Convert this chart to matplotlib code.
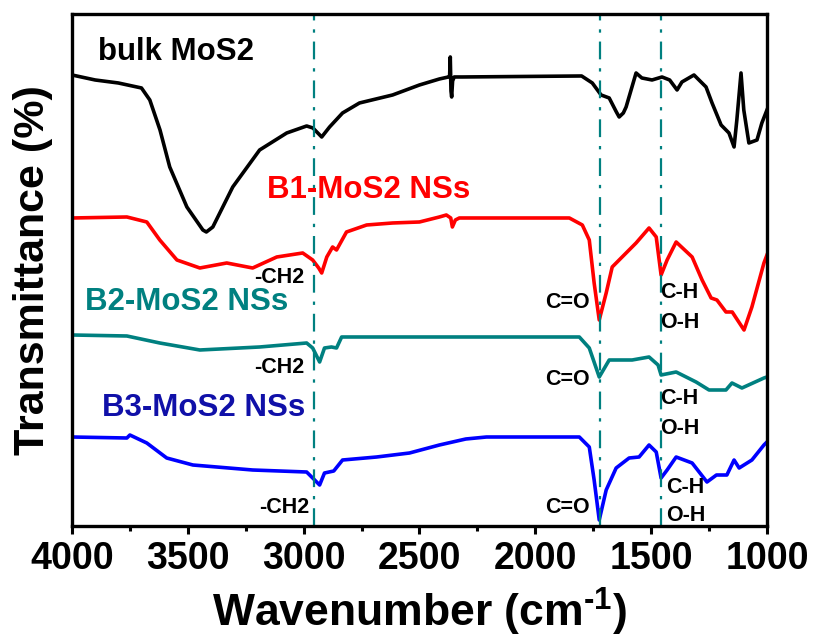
import numpy as np
import matplotlib
matplotlib.use('Agg')
import matplotlib.pyplot as plt
from matplotlib.ticker import MultipleLocator

plt.rcParams['font.family'] = ['Liberation Sans', 'DejaVu Sans']
plt.rcParams['font.weight'] = 'bold'
plt.rcParams['mathtext.fontset'] = 'custom'
plt.rcParams['mathtext.rm'] = 'Liberation Sans:bold'
plt.rcParams['mathtext.it'] = 'Liberation Sans:bold'
plt.rcParams['mathtext.bf'] = 'Liberation Sans:bold'

# Spectra (wavenumber, offset transmittance in a.u.)
bulk_w = [4000, 3900, 3800, 3700, 3664, 3620, 3578, 3504, 3435, 3420, 3392, 3306, 3190, 3073,
          2987, 2960, 2922, 2888, 2832, 2759, 2616, 2500, 2414, 2375, 2370, 2367, 2364, 2361,
          2357, 2350, 2315, 1800, 1754, 1716, 1681, 1650, 1638, 1620, 1608, 1565, 1540, 1496,
          1453, 1420, 1388, 1367, 1315, 1263, 1237, 1198, 1164, 1142, 1130, 1112, 1100, 1078,
          1043, 1022, 1000]
bulk_t = [451, 446, 443, 438, 426, 396, 359, 319, 296, 294, 299, 339, 376, 393,
          400, 398, 389, 399, 413, 423, 431, 441, 447, 449, 449, 469, 435, 429,
          445, 449, 449, 450, 443, 431, 428, 414, 409, 413, 419, 453, 448, 446,
          449, 446, 436, 444, 451, 439, 423, 401, 393, 379, 406, 453, 416, 383,
          386, 403, 416]

b1_w = [4000, 3763, 3677, 3621, 3547, 3448, 3332, 3220, 3116, 3004, 2961, 2935, 2922, 2900,
        2875, 2858, 2815, 2728, 2616, 2500, 2414, 2384, 2365, 2358, 2345, 2328, 1853, 1797,
        1767, 1746, 1724, 1694, 1668, 1638, 1565, 1509, 1478, 1457, 1431, 1392, 1323, 1280,
        1241, 1216, 1177, 1150, 1099, 1065, 1013, 1000]
b1_t = [308, 309, 304, 286, 266, 258, 263, 258, 269, 273, 266, 258, 253, 269,
        279, 276, 294, 301, 303, 304, 309, 311, 308, 299, 306, 308, 308, 301,
        286, 243, 206, 233, 259, 266, 283, 298, 289, 251, 266, 284, 269, 246,
        228, 226, 214, 214, 196, 219, 263, 271]

b2_w = [4000, 3763, 3621, 3448, 3190, 2987, 2961, 2931, 2910, 2880, 2858, 2836, 2616, 2500,
        1810, 1767, 1724, 1681, 1582, 1509, 1470, 1457, 1392, 1306, 1250, 1177, 1151, 1108,
        1013, 1000]
b2_t = [191, 190, 183, 176, 179, 183, 178, 164, 178, 179, 178, 189, 189, 189,
        189, 178, 149, 166, 166, 169, 161, 151, 154, 144, 136, 136, 143, 138,
        148, 149]

b3_w = [4000, 3763, 3750, 3677, 3591, 3478, 3220, 2987, 2961, 2931, 2910, 2870, 2832, 2685,
        2543, 2414, 2300, 2211, 1810, 1767, 1746, 1724, 1694, 1651, 1595, 1552, 1509, 1478,
        1457, 1431, 1392, 1323, 1259, 1218, 1173, 1142, 1120, 1065, 1013, 1000]
b3_t = [89, 88, 91, 83, 68, 61, 56, 54, 48, 41, 53, 55, 66, 69,
        73, 81, 87, 89, 89, 79, 46, 6, 36, 58, 68, 69, 81, 74,
        48, 56, 69, 63, 44, 51, 51, 66, 58, 66, 81, 84]

# assigned bands
band_lines = [2955, 1720, 1457]

fig = plt.figure(figsize=(8.16, 6.41), dpi=100)
ax = fig.add_axes([0.0882, 0.1794, 0.8517, 0.7988])

ax.plot(bulk_w, bulk_t, color='black', lw=2.6)
ax.plot(b1_w, b1_t, color='#ff0000', lw=2.6)
ax.plot(b2_w, b2_t, color='#008080', lw=2.6)
ax.plot(b3_w, b3_t, color='#0000ff', lw=2.6)

for w in band_lines:
    ax.axvline(w, color='#008080', lw=1.6, dashes=(8, 4, 1.5, 4))

ax.text(3888, 474, 'bulk MoS2', fontsize=22.5, fontweight='bold', color='black', ha='left', va='center')
ax.text(3159, 336, 'B1-MoS2 NSs', fontsize=22.5, fontweight='bold', color='#ff0000', ha='left', va='center')
ax.text(3944, 224, 'B2-MoS2 NSs', fontsize=22.5, fontweight='bold', color='#008080', ha='left', va='center')
ax.text(3871, 118, 'B3-MoS2 NSs', fontsize=22.5, fontweight='bold', color='#1010a8', ha='left', va='center')

for x, y in [(2996, 248), (2996, 158), (2974, 19)]:
    ax.text(x, y, '-CH2', fontsize=15.5, fontweight='bold', ha='right', va='center')
for x, y in [(1767, 223), (1763, 146), (1767, 19)]:
    ax.text(x, y, 'C=O', fontsize=15.5, fontweight='bold', ha='right', va='center')
for x, y1, y2 in [(1461, 233, 203), (1461, 127, 97), (1435, 39, 11)]:
    ax.text(x, y1, 'C-H', fontsize=15.5, fontweight='bold', ha='left', va='center')
    ax.text(x, y2, 'O-H', fontsize=15.5, fontweight='bold', ha='left', va='center')

ax.set_xlim(4000, 1000)
ax.set_ylim(0, 512)
ax.xaxis.set_major_locator(MultipleLocator(500))
ax.xaxis.set_minor_locator(MultipleLocator(250))
ax.set_yticks([])
ax.tick_params(axis='x', which='major', direction='out', length=6, width=2.2, pad=5, labelsize=27)
ax.tick_params(axis='x', which='minor', direction='out', length=3.5, width=2.2)
for lbl in ax.get_xticklabels():
    lbl.set_fontweight('bold')
for sp in ax.spines.values():
    sp.set_linewidth(2.4)

ax.set_xlabel(r'Wavenumber (cm$^{\text{-1}}$)', fontsize=32, fontweight='bold', labelpad=6)
ax.set_ylabel('Transmittance (%)', fontsize=31, fontweight='bold', labelpad=14)

fig.savefig('out.png', dpi=100)
